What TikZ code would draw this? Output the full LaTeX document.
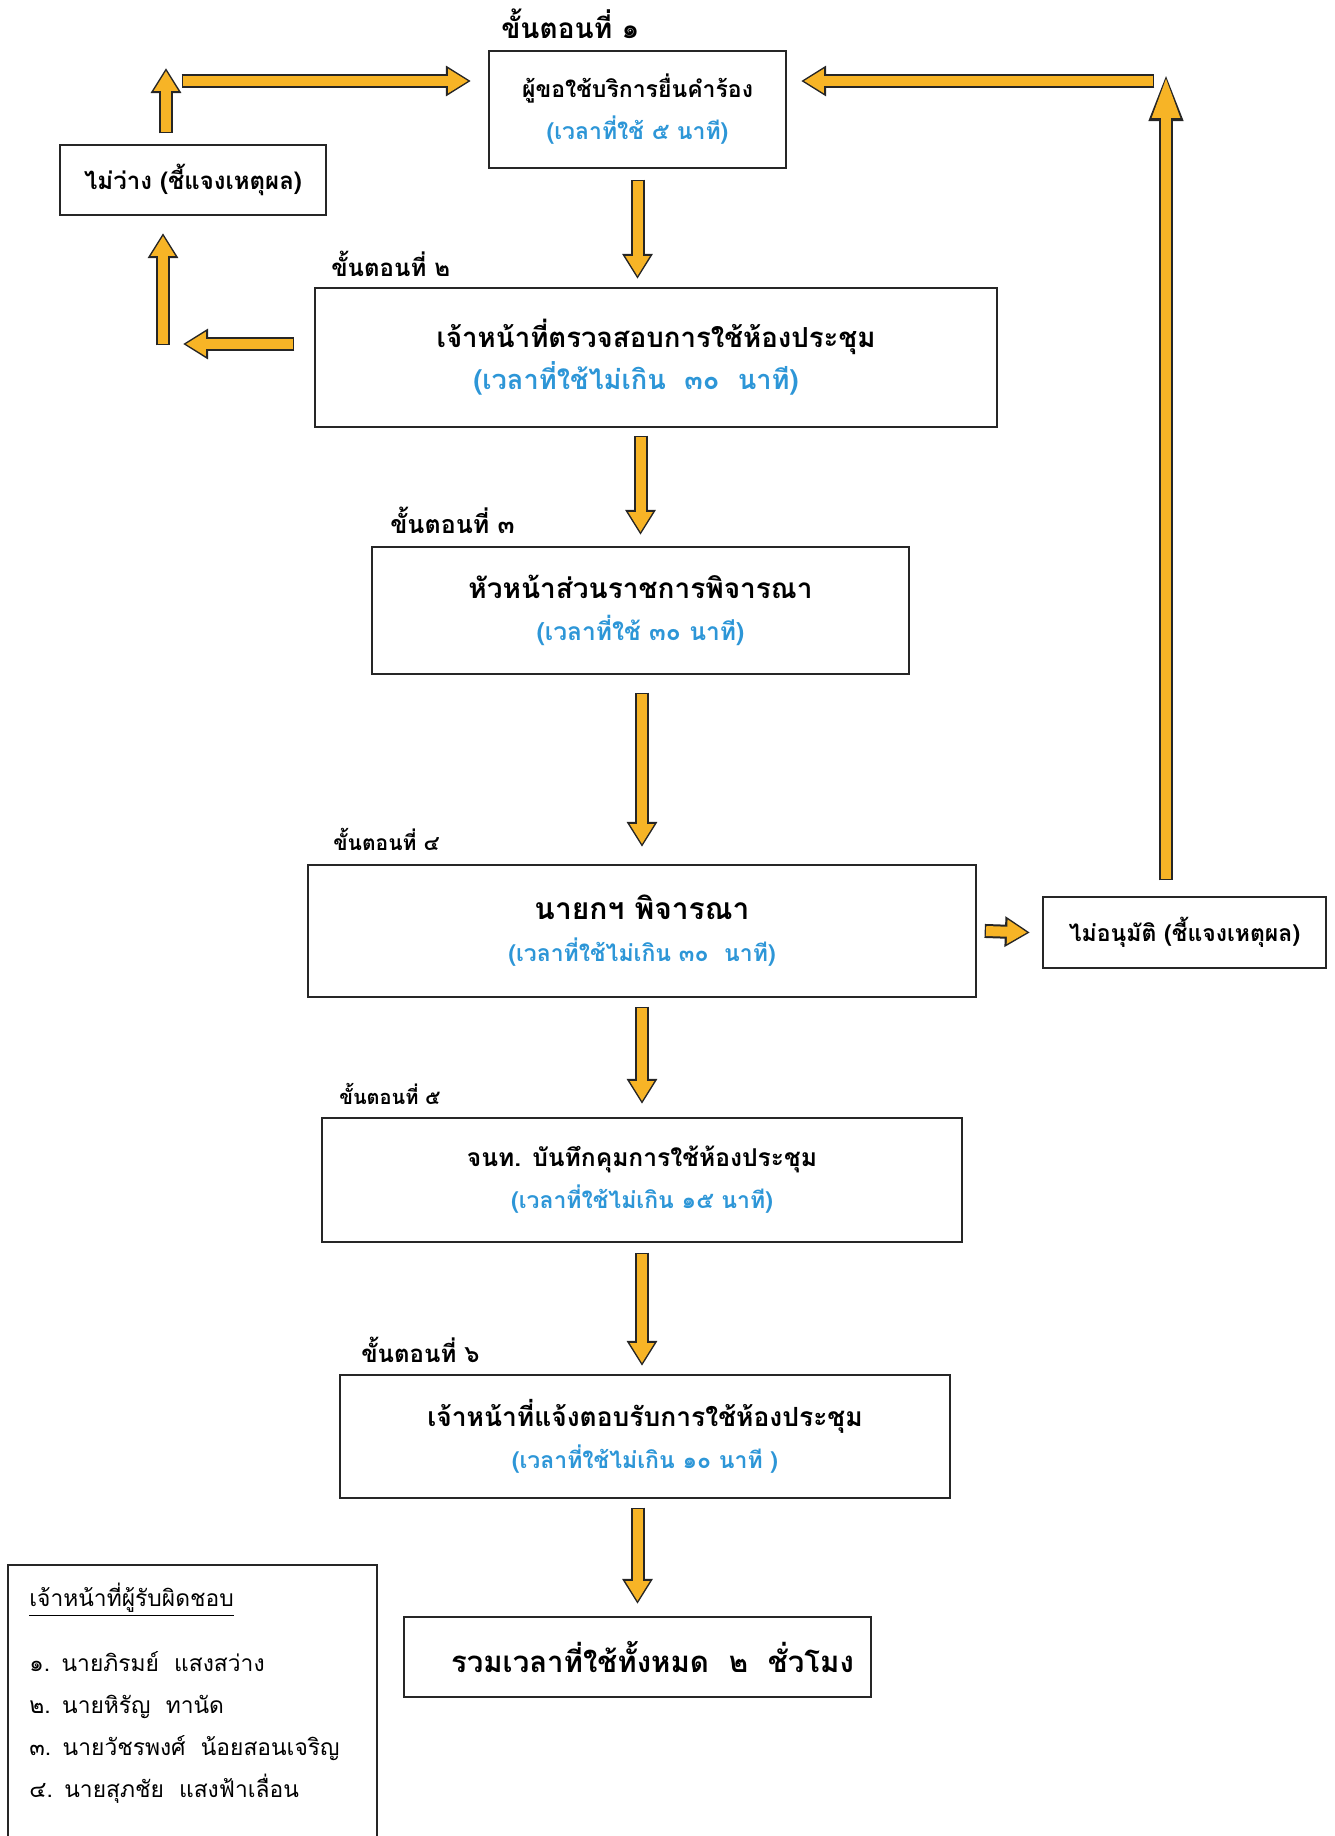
\documentclass[tikz,border=0pt]{standalone}
\usepackage{fontspec}
\setmainfont[Script=Thai]{Loma}
\usepackage{tikz}
\usetikzlibrary{arrows.meta}
\usetikzlibrary{positioning}
\definecolor{pfeil}{RGB}{247,180,38}
\definecolor{zeit}{RGB}{45,150,215}
\colorlet{rand}{black!85}

\begin{document}
\begin{tikzpicture}[x=0.5pt, y=-0.5pt,
		kasten/.style={draw=rand, line width=1.1pt, align=center, font=\fontsize{11.5}{21}\selectfont\bfseries},
		stufe/.style={inner sep=0pt, font=\bfseries},
		flow/.style={draw=pfeil, line width=5pt, shorten >=1.4pt, -{Triangle[width=11.5pt,length=10pt]},
			preaction={draw=rand, line width=7pt, shorten >=0pt, shorten <=-0.7pt, -{Triangle[width=14.5pt,length=12.5pt]}}},
		langflow/.style={draw=pfeil, line width=5pt, shorten >=1.4pt, -{Triangle[width=12.5pt,length=21pt]},
			preaction={draw=rand, line width=7pt, shorten >=0pt, shorten <=-0.7pt, -{Triangle[width=15.5pt,length=24pt]}}}]
		\useasboundingbox (0,0) rectangle (1334,1836);

		\path
		(637.5,109.5) node[kasten, minimum width=148.5pt, minimum height=58.5pt] (a) {ผู้ขอใช้บริการยื่นคำร้อง\\\textcolor{zeit}{(เวลาที่ใช้ ๕ นาที)}}
		(656,357.5) node[kasten, minimum width=341pt, minimum height=69.5pt] (b) {{\fontsize{13.8}{21}\selectfont เจ้าหน้าที่ตรวจสอบการใช้ห้องประชุม}\\\textcolor{zeit}{\fontsize{13.6}{21}\selectfont(เวลาที่ใช้ไม่เกิน\ \ ๓๐\ \ นาที)\hspace*{20pt}}}
		(640.5,610.5) node[kasten, minimum width=268.5pt, minimum height=63.5pt] (c) {{\fontsize{14}{21}\selectfont หัวหน้าส่วนราชการพิจารณา}\\\textcolor{zeit}{\fontsize{12.3}{21}\selectfont(เวลาที่ใช้ ๓๐ นาที)}}
		(642,931) node[kasten, minimum width=334pt, minimum height=66pt] (d) {{\fontsize{15}{21}\selectfont นายกฯ พิจารณา}\\\textcolor{zeit}{(เวลาที่ใช้ไม่เกิน ๓๐\ \ นาที)}}
		(642,1180) node[kasten, minimum width=320pt, minimum height=62pt] (e) {{\fontsize{12.3}{21}\selectfont จนท. บันทึกคุมการใช้ห้องประชุม}\\\textcolor{zeit}{(เวลาที่ใช้ไม่เกิน ๑๕ นาที)}}
		(645,1436.5) node[kasten, minimum width=305pt, minimum height=61.5pt] (f) {{\fontsize{13.2}{21}\selectfont เจ้าหน้าที่แจ้งตอบรับการใช้ห้องประชุม}\\\textcolor{zeit}{(เวลาที่ใช้ไม่เกิน ๑๐ นาที )}}
		(637.5,1657) node[kasten, minimum width=233.5pt, minimum height=40pt, font=\fontsize{14.7}{21}\selectfont\bfseries] (g) {\hspace*{15pt}รวมเวลาที่ใช้ทั้งหมด\ \ ๒\ \ ชั่วโมง}
		(193,180) node[kasten, minimum width=133pt, minimum height=35pt, font=\fontsize{12}{21}\selectfont\bfseries] (u) {ไม่ว่าง (ชี้แจงเหตุผล)}
		(1184.5,932.5) node[kasten, minimum width=141.5pt, minimum height=35.5pt] (v) {ไม่อนุมัติ (ชี้แจงเหตุผล)};

		\node[stufe, above right=5.5pt and 6.5pt of a.north west, font=\fontsize{14}{16}\selectfont\bfseries] (s1) {ขั้นตอนที่ ๑};
		\node[stufe, above right=5pt and 8.5pt of b.north west, font=\fontsize{12}{14}\selectfont\bfseries] (s2) {ขั้นตอนที่ ๒};
		\node[stufe, above right=6pt and 9.5pt of c.north west, font=\fontsize{12.5}{14}\selectfont\bfseries] (s3) {ขั้นตอนที่ ๓};
		\node[stufe, above right=6.5pt and 13pt of d.north west, font=\fontsize{10.5}{12}\selectfont\bfseries] (s4) {ขั้นตอนที่ ๔};
		\node[stufe, above right=6pt and 9pt of e.north west, font=\fontsize{10}{12}\selectfont\bfseries] (s5) {ขั้นตอนที่ ๕};
		\node[stufe, above right=5.5pt and 11pt of f.north west, font=\fontsize{12}{14}\selectfont\bfseries] (s6) {ขั้นตอนที่ ๖};

		\node[anchor=north west, text width=163pt, inner xsep=10.5pt, inner ysep=9pt, align=left, font=\fontsize{11.4}{21}\selectfont] (w) at (8,1565)
			{\underline{เจ้าหน้าที่ผู้รับผิดชอบ}\\[11.5pt]
			๑. นายภิรมย์\ \ แสงสว่าง\\
			๒. นายหิรัญ\ \ ทานัด\\
			๓. นายวัชรพงศ์\ \ น้อยสอนเจริญ\\
			๔. นายสุภชัย\ \ แสงฟ้าเลื่อน};
		\draw[draw=rand, line width=1.1pt] ([yshift=-30pt]w.south west) |- (w.north east) -- ([yshift=-30pt]w.south east);

		\coordinate (p) at (166,81);
		\coordinate (q) at (163,344);
		\coordinate (r) at (1166,81);

		\draw[flow] ([yshift=-6pt]a.south) -- ([yshift=4pt]b.north -| a.south);
		\draw[flow] ([yshift=-4.5pt]b.south -| c.north) -- ([yshift=5.5pt]c.north);
		\draw[flow] ([yshift=-9.5pt]c.south -| d.north) -- ([yshift=8.5pt]d.north);
		\draw[flow] ([yshift=-5pt]d.south) -- ([yshift=6.5pt]e.north);
		\draw[flow] ([yshift=-5.5pt]e.south) -- ([yshift=4pt]f.north -| e.south);
		\draw[flow] ([yshift=-5pt]f.south -| g.north) -- ([yshift=6pt]g.north);

		\draw[flow] ([xshift=-10.5pt]b.west |- q) -- ([xshift=10pt]q);
		\draw[flow] (q) -- ([yshift=-8.5pt]u.south -| q);
		\draw[flow] ([yshift=6pt]u.north -| p) -- ([yshift=6.5pt]p);
		\draw[flow] ([xshift=8.5pt]p) -- ([xshift=-8.5pt]a.west |- p);
		\draw[flow] ([xshift=4.5pt]d.east) -- ([xshift=-6pt]v.west);
		\draw[langflow] ([yshift=8.5pt]v.north -| r) -- ([yshift=4pt]r);
		\draw[flow] ([xshift=-6.5pt]r) -- ([xshift=7pt]a.east |- r);
	\end{tikzpicture}
\end{document}
